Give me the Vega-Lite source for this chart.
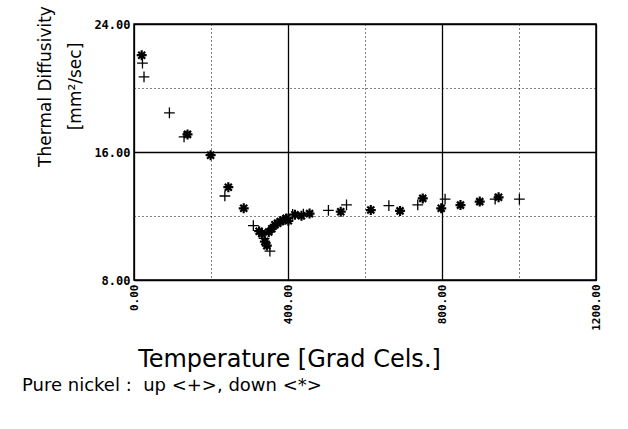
{
  "$schema": "https://vega.github.io/schema/vega-lite/v6.json",
  "width": 462,
  "height": 256,
  "autosize": {"type": "none"},
  "padding": {"left": 134, "top": 24, "right": 32, "bottom": 149},
  "background": "white",
  "config": {
    "view": {"stroke": "black", "strokeWidth": 1.5},
    "font": "DejaVu Sans"
  },
  "title": {
    "text": "Pure nickel :\u00a0 up <+>, down <*>",
    "orient": "bottom",
    "anchor": "start",
    "frame": "group",
    "dx": -112,
    "offset": 6,
    "font": "DejaVu Sans",
    "fontSize": 18,
    "fontWeight": "normal",
    "color": "black"
  },
  "data": {
    "values": [
      {"T": 22, "D": 21.55, "dir": "up"},
      {"T": 26, "D": 20.7, "dir": "up"},
      {"T": 92, "D": 18.45, "dir": "up"},
      {"T": 130, "D": 16.95, "dir": "up"},
      {"T": 236, "D": 13.25, "dir": "up"},
      {"T": 310, "D": 11.4, "dir": "up"},
      {"T": 338, "D": 10.6, "dir": "up"},
      {"T": 353, "D": 9.8, "dir": "up"},
      {"T": 412, "D": 12.1, "dir": "up"},
      {"T": 440, "D": 12.12, "dir": "up"},
      {"T": 505, "D": 12.35, "dir": "up"},
      {"T": 552, "D": 12.7, "dir": "up"},
      {"T": 662, "D": 12.65, "dir": "up"},
      {"T": 737, "D": 12.7, "dir": "up"},
      {"T": 808, "D": 13.05, "dir": "up"},
      {"T": 938, "D": 13.05, "dir": "up"},
      {"T": 1001, "D": 13.05, "dir": "up"},
      {"T": 20, "D": 22.05, "dir": "down"},
      {"T": 139, "D": 17.1, "dir": "down"},
      {"T": 199, "D": 15.8, "dir": "down"},
      {"T": 245, "D": 13.8, "dir": "down"},
      {"T": 285, "D": 12.48, "dir": "down"},
      {"T": 325, "D": 11.05, "dir": "down"},
      {"T": 332, "D": 10.9, "dir": "down"},
      {"T": 340, "D": 10.4, "dir": "down"},
      {"T": 345, "D": 10.15, "dir": "down"},
      {"T": 350, "D": 11.0, "dir": "down"},
      {"T": 358, "D": 11.2, "dir": "down"},
      {"T": 366, "D": 11.45, "dir": "down"},
      {"T": 373, "D": 11.55, "dir": "down"},
      {"T": 380, "D": 11.65, "dir": "down"},
      {"T": 388, "D": 11.75, "dir": "down"},
      {"T": 395, "D": 11.85, "dir": "down"},
      {"T": 401, "D": 11.7, "dir": "down"},
      {"T": 418, "D": 12.08, "dir": "down"},
      {"T": 435, "D": 12.02, "dir": "down"},
      {"T": 456, "D": 12.15, "dir": "down"},
      {"T": 537, "D": 12.27, "dir": "down"},
      {"T": 615, "D": 12.37, "dir": "down"},
      {"T": 691, "D": 12.32, "dir": "down"},
      {"T": 750, "D": 13.1, "dir": "down"},
      {"T": 798, "D": 12.48, "dir": "down"},
      {"T": 848, "D": 12.68, "dir": "down"},
      {"T": 898, "D": 12.9, "dir": "down"},
      {"T": 947, "D": 13.17, "dir": "down"}
    ]
  },
  "mark": {"type": "point", "filled": false, "color": "black", "opacity": 1},
  "encoding": {
    "x": {
      "field": "T",
      "type": "quantitative",
      "scale": {"domain": [0, 1200], "nice": false, "zero": false},
      "axis": {
        "values": [0, 200, 400, 600, 800, 1000, 1200],
        "format": ".2f",
        "labelExpr": "datum.value % 400 == 0 ? datum.label : ''",
        "labelAngle": -90,
        "labelFont": "DejaVu Sans Mono",
        "labelFontWeight": "bold",
        "labelFontSize": 11,
        "labelColor": "black",
        "labelPadding": 4,
        "domain": false,
        "ticks": false,
        "grid": true,
        "gridColor": "black",
        "gridOpacity": 1,
        "gridWidth": {"condition": {"test": "datum.value % 400 == 0", "value": 1.3}, "value": 1},
        "gridDash": {"condition": {"test": "datum.value % 400 == 0", "value": []}, "value": [1, 3]},
        "title": "Temperature [Grad Cels.]",
        "titleFont": "DejaVu Sans",
        "titleFontSize": 24,
        "titleFontWeight": "normal",
        "titleColor": "black",
        "titleX": 155,
        "titleY": 86,
        "titleAlign": "center",
        "titleBaseline": "alphabetic"
      }
    },
    "y": {
      "field": "D",
      "type": "quantitative",
      "scale": {"domain": [8, 24], "nice": false, "zero": false},
      "axis": {
        "values": [8, 12, 16, 20, 24],
        "format": ".2f",
        "labelExpr": "datum.value % 8 == 0 ? datum.label : ''",
        "labelFont": "DejaVu Sans Mono",
        "labelFontWeight": "bold",
        "labelFontSize": 12,
        "labelColor": "black",
        "labelPadding": 4,
        "domain": false,
        "ticks": false,
        "grid": true,
        "gridColor": "black",
        "gridOpacity": 1,
        "gridWidth": {"condition": {"test": "datum.value % 8 == 0", "value": 1.3}, "value": 1},
        "gridDash": {"condition": {"test": "datum.value % 8 == 0", "value": []}, "value": [1, 3]},
        "title": ["Thermal Diffusivity", "[mm²/sec]"],
        "titleFont": "DejaVu Sans",
        "titleFontSize": 17,
        "titleFontWeight": "normal",
        "titleColor": "black",
        "titleAngle": -90,
        "titleX": -84,
        "titleY": 62,
        "titleAlign": "center",
        "titleBaseline": "alphabetic",
        "titleLineHeight": 30
      }
    },
    "shape": {
      "field": "dir",
      "type": "nominal",
      "scale": {
        "domain": ["up", "down"],
        "range": ["M-1,0L1,0M0,-1L0,1", "M-1,0L1,0M0,-1L0,1M-0.7,-0.7L0.7,0.7M-0.7,0.7L0.7,-0.7"]
      },
      "legend": null
    },
    "size": {
      "field": "dir",
      "type": "nominal",
      "scale": {"domain": ["up", "down"], "range": [115, 100]},
      "legend": null
    },
    "strokeWidth": {
      "field": "dir",
      "type": "nominal",
      "scale": {"domain": ["up", "down"], "range": [1.3, 2.2]},
      "legend": null
    }
  }
}
